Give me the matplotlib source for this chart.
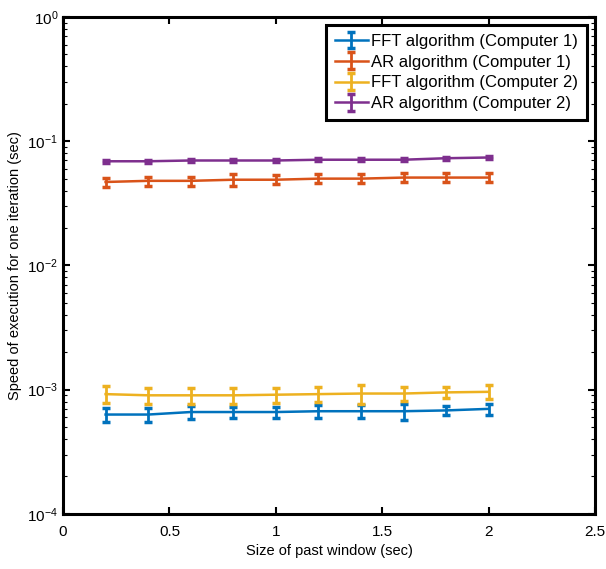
import numpy as np
import matplotlib.pyplot as plt

plt.rcParams['font.family'] = ['Liberation Sans', 'DejaVu Sans']

# window sizes (sec)
window = [0.2, 0.4, 0.6, 0.8, 1.0, 1.2, 1.4, 1.6, 1.8, 2.0]

fft_c1 = [0.00063, 0.00063, 0.00066, 0.00066, 0.00066, 0.00067, 0.00067, 0.00067, 0.00068, 0.00070]
fft_c1_err = [0.00008, 0.00008, 0.00008, 0.00007, 0.00007, 0.00008, 0.00008, 0.00010, 0.00006, 0.00007]
ar_c1 = [0.047, 0.048, 0.048, 0.049, 0.049, 0.050, 0.050, 0.051, 0.051, 0.051]
ar_c1_err = [0.004, 0.004, 0.004, 0.005, 0.004, 0.004, 0.004, 0.004, 0.004, 0.004]
fft_c2 = [0.00092, 0.00090, 0.00090, 0.00090, 0.00091, 0.00092, 0.00093, 0.00093, 0.00095, 0.00096]
fft_c2_err = [0.00014, 0.00013, 0.00013, 0.00013, 0.00013, 0.00013, 0.00016, 0.00012, 0.00010, 0.00012]
ar_c2 = [0.069, 0.069, 0.070, 0.070, 0.070, 0.071, 0.071, 0.071, 0.073, 0.074]
ar_c2_err = [0.0018, 0.0018, 0.0020, 0.0018, 0.0018, 0.0018, 0.0018, 0.0018, 0.0020, 0.0020]

labels = ['FFT algorithm (Computer 1)', 'AR algorithm (Computer 1)',
          'FFT algorithm (Computer 2)', 'AR algorithm (Computer 2)']
colors = ['#0072BD', '#D95319', '#EDB120', '#7E2F8E']
series = [(fft_c1, fft_c1_err), (ar_c1, ar_c1_err), (fft_c2, fft_c2_err), (ar_c2, ar_c2_err)]

fig = plt.figure(figsize=(6.06, 5.69), dpi=100)
ax = fig.add_axes([0.104, 0.097, 0.878, 0.873])

for (y, e), c, lab in zip(series, colors, labels):
    ax.errorbar(window, y, yerr=e, color=c, lw=1.8, elinewidth=2, capsize=3,
                capthick=2.5, label=lab)

ax.set_yscale('log')
ax.set_xlim(0, 2.5)
ax.set_ylim(1e-4, 1)
ax.set_xticks([0, 0.5, 1, 1.5, 2, 2.5])
ax.set_xticklabels(['0', '0.5', '1', '1.5', '2', '2.5'])
ax.tick_params(which='both', direction='in', top=True, right=True, labelsize=11)
ax.tick_params(which='major', length=5, width=1.5)
ax.tick_params(which='minor', length=3, width=0.8)
ax.tick_params(axis='x', pad=8)
for s in ax.spines.values():
    s.set_linewidth(2.2)

ax.set_xlabel('Size of past window (sec)', fontsize=10.5)
ax.set_ylabel('Speed of execution for one iteration (sec)', fontsize=10.5)

leg = ax.legend(loc='upper right', fontsize=12, fancybox=False, framealpha=1,
                edgecolor='black', handlelength=2.0, borderpad=0.5,
                labelspacing=0.35, handletextpad=0.2, borderaxespad=0.5)
leg.get_frame().set_linewidth(2.2)

fig.savefig('out.png', dpi=100)
